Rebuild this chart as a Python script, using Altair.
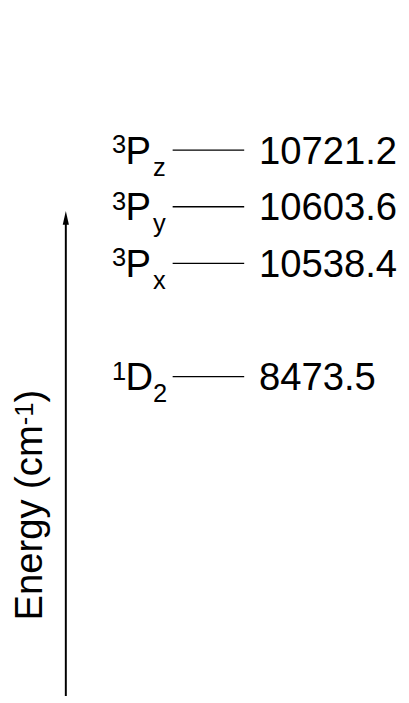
import altair as alt
import pandas as pd

# Energy levels (cm^-1) of the diagram, top to bottom
multiplicity = ["3", "3", "3", "1"]
term = ["P", "P", "P", "D"]
component = ["z", "y", "x", "2"]
energy = [10721.2, 10603.6, 10538.4, 8473.5]
# schematic row of each level in the (broken) diagram
diagram_row = [4, 3, 2, 0]

axis_title = ["Energy (cm", "-1", ")"]

df = pd.DataFrame({
    "mult": multiplicity,
    "term": term,
    "comp": component,
    "energy": energy,
    "row": diagram_row,
})

FONT = "Liberation Sans"
BIG = 39
SMALL = 26

yscale = alt.Scale(domain=[0, 4], range=[369, 138])
base = alt.Chart(df).encode(y=alt.Y("row:Q", scale=yscale, axis=None))

lines = base.mark_rule(color="black", strokeWidth=1.4).encode(
    x=alt.value(168), x2=alt.value(241)
)
values = base.mark_text(align="left", baseline="alphabetic", dy=14,
                        fontSize=BIG, font=FONT, color="black").encode(
    x=alt.value(256), text=alt.Text("energy:Q", format=".1f")
)
sup = base.mark_text(align="left", baseline="alphabetic", dy=3,
                     fontSize=SMALL, font=FONT, color="black").encode(
    x=alt.value(106), text="mult:N"
)
main = base.mark_text(align="left", baseline="alphabetic", dy=14,
                      fontSize=BIG, font=FONT, color="black").encode(
    x=alt.value(120), text="term:N"
)
sub = base.mark_text(align="left", baseline="alphabetic", dy=26,
                     fontSize=SMALL, font=FONT, color="black").encode(
    x=alt.value(148), text="comp:N"
)

one = pd.DataFrame({"a": [0]})
shaft = alt.Chart(one).mark_rule(color="black", strokeWidth=2).encode(
    x=alt.value(59), y=alt.value(212), y2=alt.value(695)
)
head = alt.Chart(one).mark_point(shape="M0,-1L0.45,1L-0.45,1Z", size=196,
                                 filled=True, color="black", opacity=1,
                                 strokeWidth=0).encode(
    x=alt.value(59), y=alt.value(207)
)

t1 = alt.Chart(one).mark_text(text=axis_title[0], angle=270, align="left",
                              baseline="alphabetic", fontSize=BIG, font=FONT,
                              color="black").encode(x=alt.value(35), y=alt.value(618))
t2 = alt.Chart(one).mark_text(text=axis_title[1], angle=270, align="left",
                              baseline="alphabetic", fontSize=SMALL, font=FONT,
                              color="black").encode(x=alt.value(25), y=alt.value(618 - 5.112 * BIG))
t3 = alt.Chart(one).mark_text(text=axis_title[2], angle=270, align="left",
                              baseline="alphabetic", fontSize=BIG, font=FONT,
                              color="black").encode(x=alt.value(35),
                                                    y=alt.value(618 - 5.112 * BIG - 0.889 * SMALL))

chart = alt.layer(lines, values, sup, main, sub, shaft, head, t1, t2, t3).properties(
    width=401, height=695, autosize="none", padding=0, background="white"
).configure_view(stroke=None, strokeWidth=0)

chart.save("out.html", embed_options={"renderer": "svg", "actions": False})
